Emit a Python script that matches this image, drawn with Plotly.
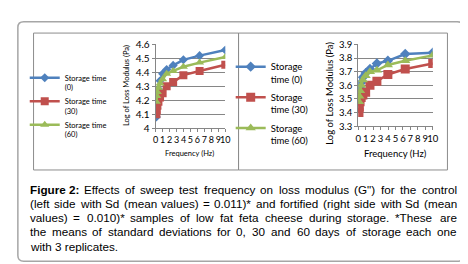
import plotly.graph_objects as go

W, H = 468, 264

# ---- data ----
freq = [0.1, 0.158, 0.251, 0.398, 0.631, 1, 1.58, 2.51, 3.98, 6.31, 10]

control_0 = [4.08, 4.14, 4.22, 4.28, 4.34, 4.39, 4.42, 4.45, 4.49, 4.52, 4.56]
control_30 = [4.10, 4.13, 4.16, 4.19, 4.22, 4.25, 4.30, 4.33, 4.38, 4.41, 4.455]
control_60 = [4.19, 4.23, 4.26, 4.29, 4.32, 4.35, 4.39, 4.41, 4.44, 4.47, 4.51]

fortified_0 = [3.49, 3.54, 3.58, 3.62, 3.66, 3.69, 3.72, 3.76, 3.78, 3.83, 3.84]
fortified_30 = [3.40, 3.44, 3.48, 3.51, 3.53, 3.55, 3.60, 3.63, 3.68, 3.72, 3.76]
fortified_60 = [3.48, 3.52, 3.56, 3.60, 3.64, 3.67, 3.70, 3.71, 3.75, 3.78, 3.82]

x_ticks = list(range(0, 11))
left_y_ticks = [4, 4.1, 4.2, 4.3, 4.4, 4.5, 4.6]
right_y_ticks = [3.3, 3.4, 3.5, 3.6, 3.7, 3.8, 3.9]

caption_lines = [
    "Figure 2: Effects of sweep test frequency on loss modulus (G\") for the control",
    "(left side with Sd (mean values) = 0.011)* and fortified (right side with Sd (mean",
    "values) = 0.010)* samples of low fat feta cheese during storage. *These are",
    "the means of standard deviations for 0, 30 and 60 days of storage each one",
    "with 3 replicates.",
]

colors = ["#4F81BD", "#C0504D", "#9BBB59"]
symbols = ["diamond", "square", "triangle-up"]


def px(x):
    return x / W


def py(y):
    return 1 - y / H


# Arial / Helvetica advance widths (per 1000 em) for text justification
REG = {" ": 278, "\"": 355, "(": 333, ")": 333, "*": 389, ",": 278, "-": 333,
       ".": 278, ":": 278, "=": 584, "A": 667, "E": 667, "F": 611, "G": 778,
       "S": 667, "T": 722, "a": 556, "b": 556, "c": 500, "d": 556, "e": 556,
       "f": 278, "g": 556, "h": 556, "i": 222, "j": 222, "k": 500, "l": 222,
       "m": 833, "n": 556, "o": 556, "p": 556, "q": 556, "r": 333, "s": 500,
       "t": 278, "u": 556, "v": 500, "w": 722, "x": 500, "y": 500, "z": 500}
BOLD = {" ": 278, "F": 611, "i": 278, "g": 611, "u": 611, "r": 389, "e": 556,
        ":": 333}


def text_w(s, size, bold=False):
    tot = 0
    for ch in s:
        if ch.isdigit():
            tot += 556
        else:
            tot += (BOLD if bold else REG).get(ch, 556)
    return tot * size / 1000.0


fig = go.Figure()

left_legend_names = ["Storage time<br>(0)", "Storage time<br>(30)", "Storage time<br>(60)"]
right_legend_names = ["Storage<br>time (0)", "Storage<br>time (30)", "Storage<br>time (60)"]

for i, vals in enumerate([control_0, control_30, control_60]):
    fig.add_trace(go.Scatter(
        x=freq, y=vals, mode="lines+markers", name=left_legend_names[i],
        line=dict(color=colors[i], width=2.5),
        marker=dict(symbol=symbols[i], size=[7, 8, 8][i], color=colors[i]),
        xaxis="x", yaxis="y", legend="legend", legendgroup="L%d" % i,
    ))

for i, vals in enumerate([fortified_0, fortified_30, fortified_60]):
    fig.add_trace(go.Scatter(
        x=freq, y=vals, mode="lines+markers", name=right_legend_names[i],
        line=dict(color=colors[i], width=2.5),
        marker=dict(symbol=symbols[i], size=[8, 9, 9][i], color=colors[i]),
        xaxis="x2", yaxis="y2", legend="legend2", legendgroup="R%d" % i,
    ))

axis_common = dict(showline=True, linecolor="#868686", linewidth=1,
                   ticks="outside", tickcolor="#868686", ticklen=3,
                   zeroline=False, tickangle=0)

fig.update_layout(
    width=W, height=H,
    margin=dict(l=0, r=0, t=0, b=0),
    paper_bgcolor="white", plot_bgcolor="white",
    font=dict(family="Lato", color="#000000"),
    xaxis=dict(domain=[px(147.5), px(218.5)], range=[0, 10], tickmode="array",
               tickvals=x_ticks, showgrid=False, anchor="y",
               tickfont=dict(size=9), **axis_common),
    yaxis=dict(domain=[py(119), py(31)], range=[4, 4.6], tickmode="array",
               tickvals=left_y_ticks, showgrid=True, gridcolor="#868686",
               gridwidth=1, anchor="x", tickfont=dict(size=10), **axis_common),
    xaxis2=dict(domain=[px(354), px(430)], range=[0, 10], tickmode="array",
                tickvals=x_ticks, showgrid=False, anchor="y2",
                tickfont=dict(size=9.5), **axis_common),
    yaxis2=dict(domain=[py(117), py(31)], range=[3.3, 3.9], tickmode="array",
                tickvals=right_y_ticks, showgrid=True, gridcolor="#868686",
                gridwidth=1, anchor="x2", tickfont=dict(size=9.5), **axis_common),
    legend=dict(x=px(14), y=py(54), xanchor="left", yanchor="top",
                font=dict(size=7.5, family="Lato"), valign="top",
                bgcolor="rgba(0,0,0,0)", tracegroupgap=1),
    legend2=dict(x=px(224), y=py(41), xanchor="left", yanchor="top",
                 font=dict(size=9.5, family="Lato"), valign="top",
                 bgcolor="rgba(0,0,0,0)", tracegroupgap=3),
    showlegend=True,
)

# frames
shapes = []
r = 6
x0, y0, x1, y1 = 7, 7, 461, 259
path = (f"M {px(x0 + r)},{py(y0)} L {px(x1 - r)},{py(y0)} "
        f"Q {px(x1)},{py(y0)} {px(x1)},{py(y0 + r)} L {px(x1)},{py(y1 - r)} "
        f"Q {px(x1)},{py(y1)} {px(x1 - r)},{py(y1)} L {px(x0 + r)},{py(y1)} "
        f"Q {px(x0)},{py(y1)} {px(x0)},{py(y1 - r)} L {px(x0)},{py(y0 + r)} "
        f"Q {px(x0)},{py(y0)} {px(x0 + r)},{py(y0)} Z")
shapes.append(dict(type="path", path=path, xref="paper", yref="paper",
                   line=dict(color="#A6A6A6", width=1.5)))
shapes.append(dict(type="rect", xref="paper", yref="paper",
                   x0=px(23), x1=px(232), y0=py(163), y1=py(19),
                   line=dict(color="#8C8C8C", width=1)))
shapes.append(dict(type="rect", xref="paper", yref="paper",
                   x0=px(232), x1=px(445), y0=py(163), y1=py(19),
                   line=dict(color="#8C8C8C", width=1)))
fig.update_layout(shapes=shapes)

ann = []


def add_text(text, x, y, size, angle=0, xanchor="center", yanchor="middle",
             family="Lato"):
    ann.append(dict(text=text, x=px(x), y=py(y), xref="paper", yref="paper",
                    xanchor=xanchor, yanchor=yanchor, showarrow=False,
                    textangle=angle, font=dict(size=size, family=family,
                                               color="#000000")))


add_text("Log of Loss Modulus (Pa)", 118, 74, 7.5, angle=-90)
add_text("Log of Loss Modulus (Pa)", 325, 82, 9.5, angle=-90)
add_text("Frequency (Hz)", 182, 146, 7.5)
add_text("Frequency (Hz)", 392, 146, 9.5)

# caption, justified word by word (last line left-aligned as one piece)
cap_size = 11.7
cap_left, cap_right = 17, 452
cap_y = [184, 198.5, 213, 228, 243]
for li, (line, yy) in enumerate(zip(caption_lines, cap_y)):
    if li == len(caption_lines) - 1:
        add_text(line, cap_left, yy, cap_size, xanchor="left",
                 family="Liberation Sans")
        continue
    words = line.split(" ")
    if li == 0:
        tokens = [("Figure 2:", True)] + [(w, False) for w in words[2:]]
    else:
        tokens = [(w, False) for w in words]
    widths = [text_w(t, cap_size, b) for t, b in tokens]
    gap = (cap_right - cap_left - sum(widths)) / (len(tokens) - 1)
    xx = cap_left
    for (t, b), w in zip(tokens, widths):
        add_text("<b>%s</b>" % t if b else t, xx, yy, cap_size,
                 xanchor="left", family="Liberation Sans")
        xx += w + gap

fig.update_layout(annotations=ann)

fig.write_html("out.html")
